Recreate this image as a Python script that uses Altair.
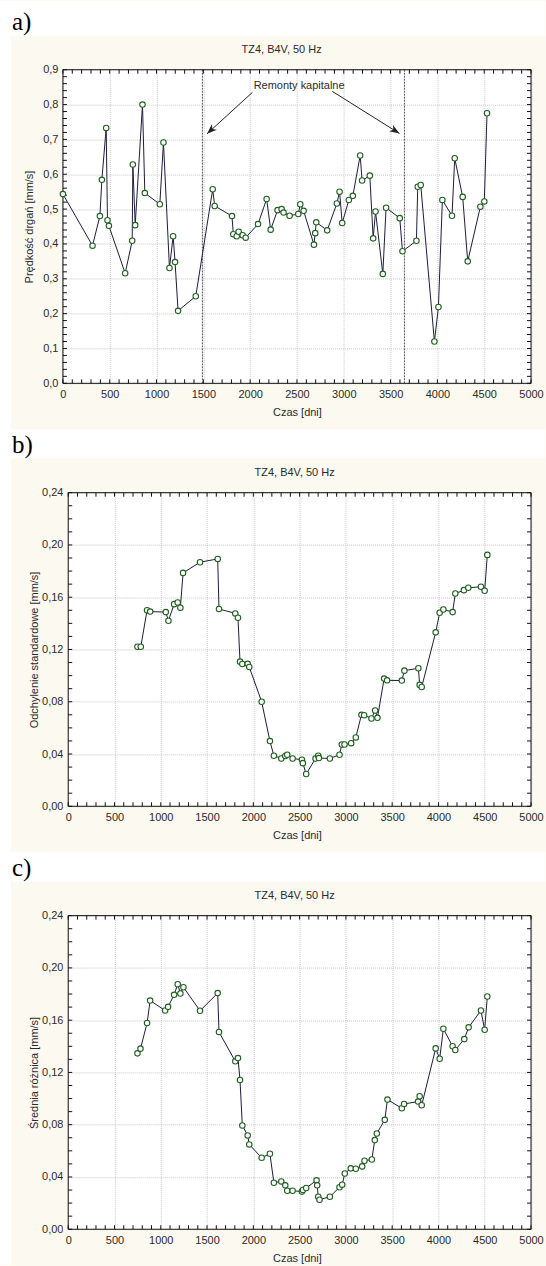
import altair as alt
import pandas as pd

# ---------------- style ----------------
CREAM = "#FCF9F1"
LINE = "#1c1c3c"
PT = "#1f5f1f"
TXT = "#2a2a2a"
GRID = "#c6c6c6"
FONT = "Liberation Sans"
SERIF = "Liberation Serif"

W = 468.7
H = 314
SPACING = 109.5
TICK_DAYS = 43

# ---------------- data ----------------
X_TICKS = [0, 500, 1000, 1500, 2000, 2500, 3000, 3500, 4000, 4500, 5000]
X_MINOR = list(range(0, 5001, 100))

days_a = [0, 316, 395, 416, 462, 476, 491, 665, 740, 747, 772, 850, 875, 1035, 1074,
          1138, 1177, 1198, 1230, 1419, 1600, 1621, 1806, 1820, 1856, 1877, 1920, 1952,
          2084, 2176, 2219, 2293, 2336, 2357, 2421, 2514, 2535, 2571, 2681, 2695, 2706,
          2823, 2926, 2955, 2983, 3054, 3097, 3175, 3196, 3278, 3314, 3339, 3417, 3452,
          3598, 3627, 3776, 3790, 3822, 3968, 4011, 4053, 4156, 4185, 4270, 4324, 4459,
          4501, 4530]
vel_a = [0.543, 0.395, 0.480, 0.584, 0.733, 0.468, 0.452, 0.316, 0.409, 0.628, 0.454,
         0.800, 0.546, 0.514, 0.691, 0.331, 0.422, 0.348, 0.208, 0.250, 0.557, 0.509,
         0.480, 0.428, 0.422, 0.435, 0.425, 0.418, 0.457, 0.529, 0.441, 0.497, 0.500,
         0.490, 0.481, 0.486, 0.514, 0.495, 0.398, 0.431, 0.462, 0.439, 0.516, 0.550,
         0.460, 0.526, 0.538, 0.654, 0.582, 0.596, 0.416, 0.493, 0.314, 0.504, 0.474,
         0.379, 0.409, 0.564, 0.569, 0.120, 0.219, 0.526, 0.481, 0.646, 0.535, 0.350,
         0.507, 0.522, 0.775]

days_b = [748, 784, 852, 885, 1054, 1083, 1144, 1183, 1212, 1241, 1424, 1615, 1629, 1805,
          1834, 1856, 1881, 1939, 1956, 2090, 2179, 2222, 2302, 2345, 2366, 2424, 2525,
          2535, 2571, 2672, 2701, 2708, 2827, 2931, 2956, 2985, 3057, 3107, 3168, 3197,
          3276, 3316, 3341, 3413, 3445, 3604, 3632, 3783, 3797, 3819, 3970, 4013, 4053,
          4153, 4182, 4275, 4322, 4459, 4499, 4528]
std_b = [0.1221, 0.1221, 0.1500, 0.1490, 0.1486, 0.1420, 0.1547, 0.1560, 0.1520, 0.1786,
         0.1868, 0.1893, 0.1510, 0.1476, 0.1443, 0.1107, 0.1089, 0.1090, 0.1066, 0.0800,
         0.0499, 0.0387, 0.0366, 0.0385, 0.0394, 0.0366, 0.0356, 0.0330, 0.0247, 0.0366,
         0.0387, 0.0369, 0.0366, 0.0394, 0.0473, 0.0473, 0.0483, 0.0527, 0.0700, 0.0697,
         0.0672, 0.0733, 0.0677, 0.0977, 0.0964, 0.0962, 0.1038, 0.1056, 0.0929, 0.0913,
         0.1331, 0.1481, 0.1506, 0.1486, 0.1628, 0.1654, 0.1672, 0.1680, 0.1649, 0.1924]

days_c = [748, 781, 852, 885, 1047, 1079, 1144, 1183, 1212, 1245, 1424, 1615, 1629, 1805,
          1834, 1856, 1881, 1939, 1956, 2090, 2179, 2222, 2302, 2345, 2366, 2424, 2525,
          2536, 2571, 2683, 2690, 2701, 2715, 2827, 2931, 2960, 2988, 3053, 3107, 3176,
          3201, 3280, 3312, 3334, 3420, 3449, 3604, 3629, 3780, 3797, 3819, 3970, 4013,
          4053, 4153, 4182, 4279, 4326, 4459, 4499, 4528]
mean_c = [0.1346, 0.1382, 0.1578, 0.1750, 0.1674, 0.1702, 0.1794, 0.1875, 0.1804, 0.1852,
          0.1672, 0.1807, 0.1509, 0.1285, 0.1310, 0.1142, 0.0794, 0.0718, 0.0649, 0.0547,
          0.0578, 0.0356, 0.0366, 0.0336, 0.0295, 0.0295, 0.0288, 0.0300, 0.0316, 0.0374,
          0.0336, 0.0249, 0.0226, 0.0249, 0.0321, 0.0341, 0.0427, 0.0466, 0.0463, 0.0481,
          0.0524, 0.0534, 0.0682, 0.0733, 0.0837, 0.0992, 0.0926, 0.0959, 0.0977, 0.1018,
          0.0949, 0.1384, 0.1305, 0.1534, 0.1400, 0.1372, 0.1455, 0.1545, 0.1674, 0.1527,
          0.1781]

Y_TICKS_A = [0.0, 0.1, 0.2, 0.3, 0.4, 0.5, 0.6, 0.7, 0.8, 0.9]
Y_MINOR_A = [round(i * 0.02, 2) for i in range(46)]
Y_TICKS_BC = [0.0, 0.04, 0.08, 0.12, 0.16, 0.20, 0.24]
Y_MINOR_BC = [round(i * 0.01, 2) for i in range(25)]

repair_days = [1490, 3648]
arrow_from_x = [2024, 2877]
arrow_from_y = [0.835, 0.838]
arrow_to_x = [1539, 3595]
arrow_to_y = [0.716, 0.717]
arrow_angle = [227.5, 122.0]
note_text = ["Remonty kapitalne"]
note_x = [2523]
note_y = [0.854]

TITLE = "TZ4, B4V, 50 Hz"

one = pd.DataFrame({"k": [0]})


def vrect(x1, x2, y1, y2, color):
    return alt.Chart(one).mark_rect(color=color, strokeWidth=0).encode(
        x=alt.value(x1), x2=alt.value(x2), y=alt.value(y1), y2=alt.value(y2))


def vtext(txt, x, y, size, font, align="center", baseline="middle"):
    return alt.Chart(one).mark_text(
        text=txt, font=font, fontSize=size, color=TXT if font == FONT else "#000",
        align=align, baseline=baseline).encode(x=alt.value(x), y=alt.value(y))


def panel(days, vals, ytitle, y_ticks, y_minor, y_max, y_fmt, x_min,
          title_x, ytitle_x, ylabel_pad, letter, extra=None, pre=None):
    xs = alt.Scale(domain=[x_min, 5000], nice=False, zero=False)
    ys = alt.Scale(domain=[0, y_max], nice=False, zero=False)
    df = pd.DataFrame({"x": days, "y": vals})
    xaxis = alt.Axis(values=X_TICKS, tickCount=30, format="d", grid=True, gridColor=GRID,
                     gridDash=[1, 1], gridWidth=1, ticks=False, tickSize=0,
                     domain=False, labelFont=FONT, labelFontSize=11, labelColor=TXT,
                     labelPadding=5, labelFlush=False, labelOverlap=False,
                     title="Czas [dni]", titleFont=FONT, titleFontSize=11,
                     titleFontWeight="normal", titleColor=TXT, titleY=29,
                     titleBaseline="middle")
    yaxis = alt.Axis(values=y_ticks, tickCount=30,
                     labelExpr=f"replace(format(datum.value, '{y_fmt}'), '.', ',')",
                     grid=True, gridColor=GRID, gridDash=[1, 1], gridWidth=1,
                     ticks=False, tickSize=0, domain=False, labelFont=FONT,
                     labelFontSize=11, labelColor=TXT, labelPadding=ylabel_pad,
                     labelFlush=False, labelOverlap=False, title=ytitle,
                     titleFont=FONT, titleFontSize=11, titleFontWeight="normal",
                     titleColor=TXT, titleX=ytitle_x, titleY=H / 2, titleAngle=270,
                     titleAlign="center", titleBaseline="middle")

    layers = []
    if pre is not None:
        layers += pre(xs, ys)
    if x_min < 0:
        layers.append(alt.Chart(one).mark_rect(color=CREAM, strokeWidth=0).encode(
            x=alt.XDatum(x_min, scale=xs), x2=alt.X2Datum(0),
            y=alt.value(-1), y2=alt.value(H + 1)))
    xt = pd.DataFrame({"x": X_MINOR})
    yt = pd.DataFrame({"y": y_minor})
    tick_col = "#111"
    layers += [
        alt.Chart(xt).mark_rule(color=tick_col, strokeWidth=1).encode(
            x=alt.X("x:Q", scale=xs), y=alt.value(H - 4), y2=alt.value(H)),
        alt.Chart(xt).mark_rule(color=tick_col, strokeWidth=1).encode(
            x=alt.X("x:Q", scale=xs), y=alt.value(0), y2=alt.value(4)),
        alt.Chart(yt).mark_rule(color=tick_col, strokeWidth=1).encode(
            y=alt.Y("y:Q", scale=ys), x=alt.XDatum(0, scale=xs),
            x2=alt.X2Datum(TICK_DAYS)),
        alt.Chart(yt).mark_rule(color=tick_col, strokeWidth=1).encode(
            y=alt.Y("y:Q", scale=ys), x=alt.XDatum(5000 - TICK_DAYS, scale=xs),
            x2=alt.X2Datum(5000)),
    ]
    layers.append(alt.Chart(one).mark_rect(fill="white", fillOpacity=0, stroke="#111",
                                           strokeWidth=1).encode(
        x=alt.XDatum(0, scale=xs), x2=alt.X2Datum(5000),
        y=alt.value(0), y2=alt.value(H)))
    layers.append(alt.Chart(df).mark_line(color=LINE, strokeWidth=1).encode(
        x=alt.X("x:Q", scale=xs, axis=xaxis),
        y=alt.Y("y:Q", scale=ys, axis=yaxis)))
    layers.append(alt.Chart(df).mark_point(shape="circle", filled=True, fill="white",
                                           stroke=PT, strokeWidth=1.1, size=30,
                                           opacity=1).encode(
        x=alt.X("x:Q", scale=xs), y=alt.Y("y:Q", scale=ys)))
    if extra is not None:
        layers += extra(xs, ys)
    layers.append(vtext(TITLE, title_x, -19.5, 11, FONT))
    layers.append(vtext(letter, -51, -40, 25, SERIF, align="left", baseline="alphabetic"))
    return alt.layer(*layers).properties(width=W, height=H)


def pre_a(xs, ys):
    rep = pd.DataFrame({"x": repair_days})
    return [
        # white page margins outside the cream boxes
        vrect(-63, 483, -69, -33.5, "white"),
        vrect(-63, -52, -69, 1197, "white"),
        vrect(-63, 483, 360, 389, "white"),
        vrect(-63, 483, 783, 813, "white"),
        alt.Chart(rep).mark_rule(color="#555", strokeWidth=1, strokeDash=[2, 1]).encode(
            x=alt.X("x:Q", scale=xs)),
    ]


def extra_a(xs, ys):
    arr = pd.DataFrame({"x": arrow_from_x, "y": arrow_from_y, "x2": arrow_to_x,
                        "y2": arrow_to_y, "ang": arrow_angle})
    note = pd.DataFrame({"x": note_x, "y": note_y, "t": note_text})
    head = "M0,0 L0.75,2 L0,1.45 L-0.75,2 Z"
    return [
        alt.Chart(arr).mark_rule(color="#222", strokeWidth=1).encode(
            x=alt.X("x:Q", scale=xs), y=alt.Y("y:Q", scale=ys),
            x2="x2:Q", y2="y2:Q"),
        alt.Chart(arr).mark_point(shape=head, filled=True, color="#222", size=100,
                                  opacity=1).encode(
            x=alt.X("x2:Q", scale=xs), y=alt.Y("y2:Q", scale=ys),
            angle=alt.Angle("ang:Q", scale=None)),
        alt.Chart(note).mark_text(font=FONT, fontSize=11, color=TXT).encode(
            x=alt.X("x:Q", scale=xs), y=alt.Y("y:Q", scale=ys), text="t:N"),
    ]


pa = panel(days_a, vel_a, "Prędkość drgań [mm/s]", Y_TICKS_A, Y_MINOR_A, 0.9, ".1f",
           0, 219, -33, 5, "a)", extra=extra_a, pre=pre_a)
pb = panel(days_b, std_b, "Odchylenie standardowe [mm/s]", Y_TICKS_BC, Y_MINOR_BC,
           0.24, ".2f", -57.2, 232, -28, 0, "b)")
pc = panel(days_c, mean_c, "Średnia różnica [mm/s]", Y_TICKS_BC, Y_MINOR_BC,
           0.24, ".2f", -57.2, 232, -28, 0, "c)")

chart = alt.vconcat(pa, pb, pc, spacing=SPACING, bounds="flush").properties(
    background=CREAM, padding=0
).configure(font=FONT).configure_view(strokeWidth=0, fill="white")

chart.save("out.html", embed_options={"renderer": "svg", "actions": False})
